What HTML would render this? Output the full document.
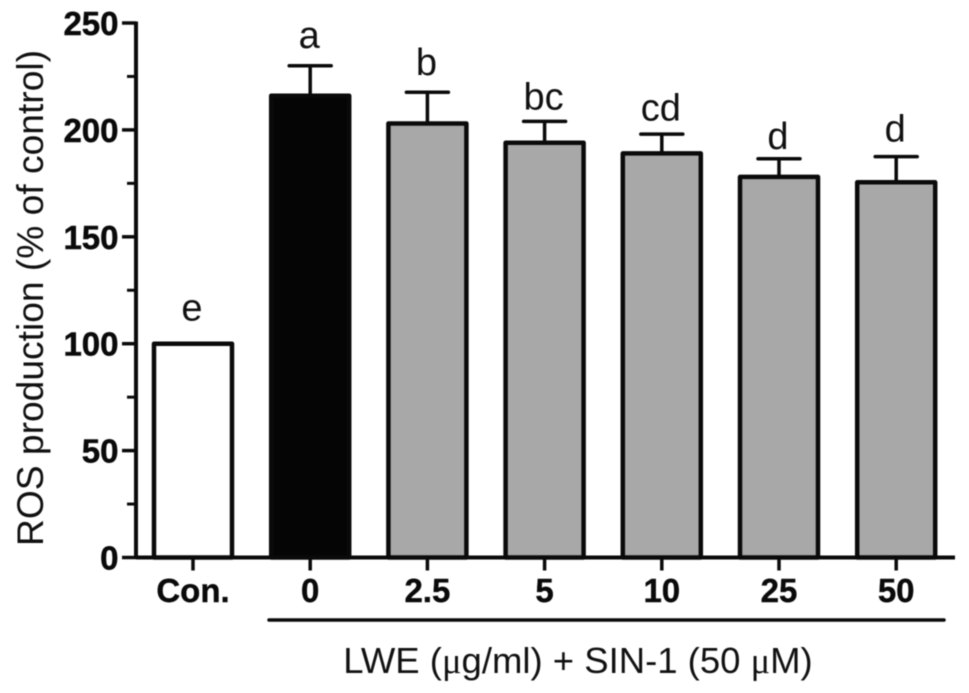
<!DOCTYPE html>
<html>
<head>
<meta charset="utf-8">
<style>
html,body{margin:0;padding:0;background:#fff;width:969px;height:693px;overflow:hidden}
svg{display:block;font-family:"Liberation Sans",Arial,sans-serif;filter:blur(0.5px)}
</style>
</head>
<body>
<svg id="chart" width="969" height="693" viewBox="0 0 969 693" xmlns="http://www.w3.org/2000/svg">
  <rect x="0" y="0" width="969" height="693" fill="#fff"/>
  <g id="marks"></g>
  <g id="axes"></g>
  <text transform="translate(43,298) rotate(-90)" text-anchor="middle" font-size="37.2" fill="#111">ROS production (% of control)</text>
  <line x1="269" y1="620" x2="944" y2="620" stroke="#0a0a0a" stroke-width="3.5" stroke-linecap="round"/>
  <text x="578" y="673" text-anchor="middle" font-size="36.5" fill="#111">LWE (<tspan font-family="'Liberation Serif',serif">μ</tspan>g/ml) + SIN-1 (50 <tspan font-family="'Liberation Serif',serif">μ</tspan>M)</text>
</svg>
<script>
const categories = ['Con.', '0', '2.5', '5', '10', '25', '50'];
const means = [100, 216, 203, 194, 189, 178, 175.5];
const errors = [0, 14, 14.6, 10, 9, 8.5, 12];
const letters = ['e', 'a', 'b', 'bc', 'cd', 'd', 'd'];
const fills = ['#ffffff', '#050505', '#a8a8a8', '#a8a8a8', '#a8a8a8', '#a8a8a8', '#a8a8a8'];
const majorTicks = [0, 50, 100, 150, 200, 250];
const minorTicks = [25, 75, 125, 175, 225];

const NS = 'http://www.w3.org/2000/svg';
const Y0 = 557.5, YTOP = 23, XAXIS = 136, X0 = 193, STEP = 117.2, BARW = 78;
function yScale(v) { return Y0 - v * (Y0 - YTOP) / 250; }
function xScale(i) { return X0 + i * STEP; }
function letterGap(i) { return i === 0 ? 23 : i === 1 ? 18 : i === 2 ? 17.5 : i === 3 ? 12 : i === 5 ? 10 : i === 6 ? 15 : 13.5; }
function make(parent, tag, attrs, text) {
  const el = document.createElementNS(NS, tag);
  for (const k in attrs) el.setAttribute(k, attrs[k]);
  if (text !== undefined) el.textContent = text;
  parent.appendChild(el);
  return el;
}
const marks = document.getElementById('marks');
const axes = document.getElementById('axes');
const INK = '#0a0a0a';

categories.forEach(function (cat, i) {
  const cx = xScale(i);
  const top = yScale(means[i]);
  const errTop = yScale(means[i] + errors[i]);
  if (errors[i] > 0) {
    const stem = make(marks, 'line', { x1: cx, x2: cx, y1: top, y2: errTop, stroke: INK, 'stroke-width': 3.5 });
    
    
    const cap = make(marks, 'line', { x1: cx - 21, x2: cx + 21, y1: errTop, y2: errTop, stroke: INK, 'stroke-width': 3.5, 'stroke-linecap': 'round' });
    
    
  }
  const bar = make(marks, 'rect', { x: cx - BARW / 2, y: top, width: BARW, height: Y0 - top, fill: fills[i], stroke: INK, 'stroke-width': 4.5, 'stroke-linejoin': 'round' });
  
  
  const lab = make(marks, 'text', { x: cx - 1, y: errTop - letterGap(i), 'text-anchor': 'middle', 'font-size': 38, fill: '#111' }, letters[i]);
  
  
  const tick = make(axes, 'line', { x1: cx, x2: cx, y1: Y0, y2: 570.5, stroke: INK, 'stroke-width': 3.5 });
  
  
  const tl = make(axes, 'text', { x: cx, y: 602, 'text-anchor': 'middle', 'font-size': 33, 'font-weight': 'bold', fill: '#0a0a0a', stroke: '#0a0a0a', 'stroke-width': 0.4 }, cat);
  
  
});

majorTicks.forEach(function (v) {
  const y = yScale(v);
  const t = make(axes, 'line', { x1: 122, x2: XAXIS, y1: y, y2: y, stroke: INK, 'stroke-width': 3.5 });
  
  
  const l = make(axes, 'text', { x: 118.5, y: y + 12, 'text-anchor': 'end', 'font-size': 33, 'font-weight': 'bold', fill: '#0a0a0a', stroke: '#0a0a0a', 'stroke-width': 0.5 }, String(v));
  
  
});
minorTicks.forEach(function (v) {
  const y = yScale(v);
  const t = make(axes, 'line', { x1: 127, x2: XAXIS, y1: y, y2: y, stroke: INK, 'stroke-width': 3 });
  
  
});
const yAxis = make(axes, 'line', { x1: XAXIS, x2: XAXIS, y1: YTOP - 1.5, y2: Y0 + 1.5, stroke: INK, 'stroke-width': 4 });


const xAxis = make(axes, 'line', { x1: XAXIS, x2: 955, y1: Y0, y2: Y0, stroke: INK, 'stroke-width': 4 });


</script>
</body>
</html>
